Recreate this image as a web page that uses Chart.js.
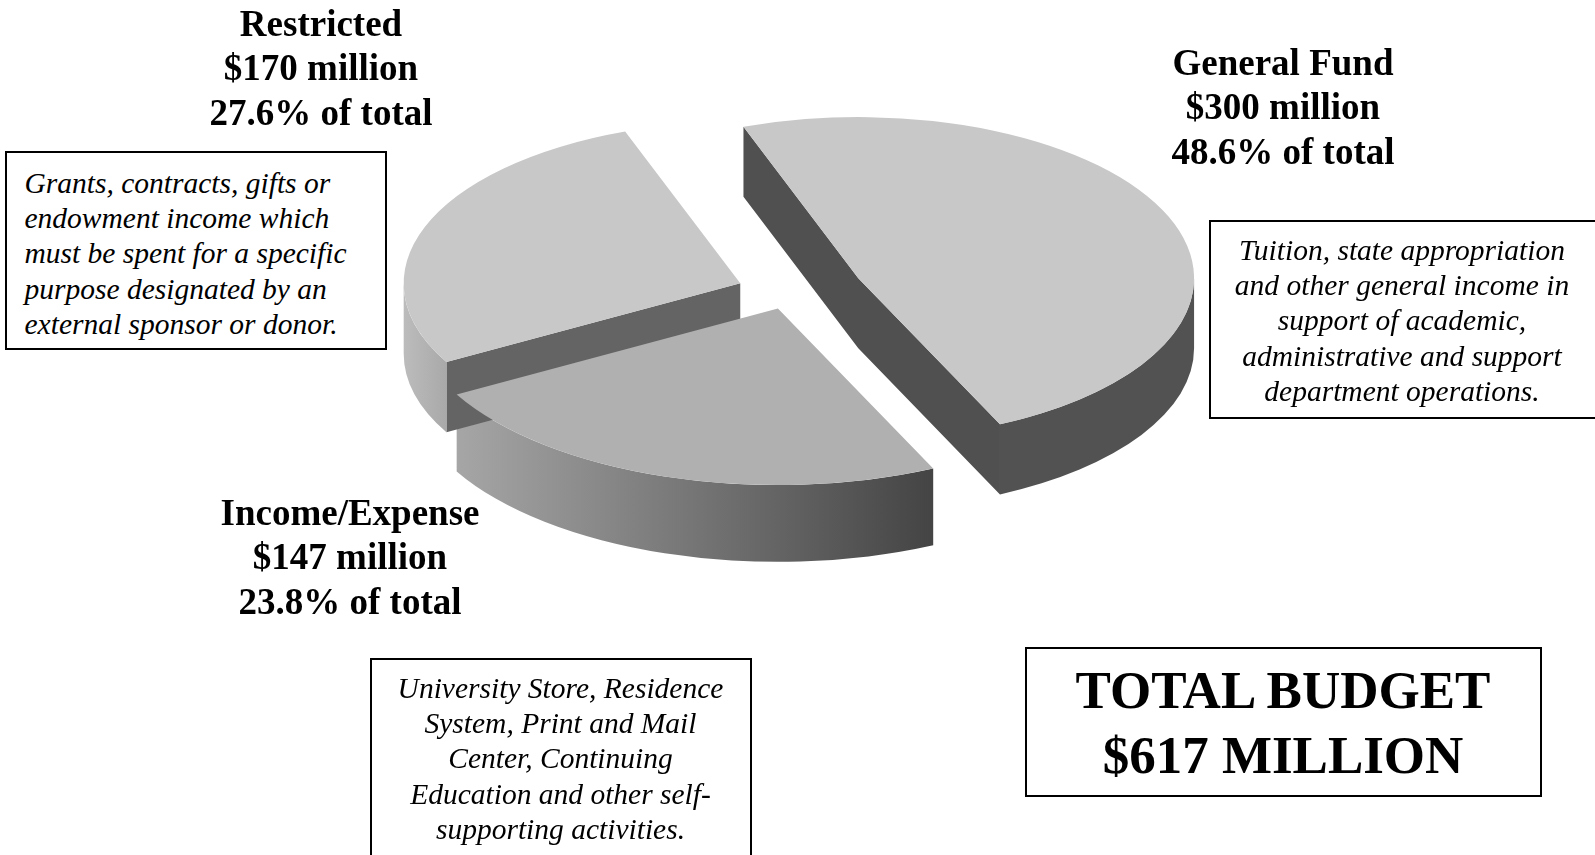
<!DOCTYPE html>
<html><head><meta charset="utf-8">
<script src="https://cdn.jsdelivr.net/npm/chart.js@4.4.1/dist/chart.umd.min.js"></script>
<style>
html,body{margin:0;padding:0;background:#fff;}
#wrap{position:relative;width:1595px;height:855px;overflow:hidden;background:#fff;}
canvas{position:absolute;left:0;top:0;}
.lbl{position:absolute;width:600px;text-align:center;font-family:"Liberation Serif","Times New Roman",serif;font-weight:bold;font-size:37px;line-height:44.5px;color:#000;white-space:nowrap;}
.box{position:absolute;box-sizing:border-box;border:2px solid #000;background:#fff;}
.note{position:absolute;font-family:"Liberation Serif","Times New Roman",serif;font-style:italic;font-size:29.5px;line-height:35.2px;white-space:nowrap;color:#000;}
.total{position:absolute;width:600px;text-align:center;font-family:"Liberation Serif","Times New Roman",serif;font-weight:bold;font-size:53px;line-height:64.4px;color:#000;white-space:nowrap;}
</style></head>
<body><div id="wrap"><canvas id="c" width="1595" height="855"></canvas></div>
<script>
// ---- data ----
const categories = ['General Fund', 'Income/Expense', 'Restricted'];
const amounts = [300, 147, 170]; // $ millions
const descGeneral = ['Tuition, state appropriation', 'and other general income in', 'support of academic,', 'administrative and support', 'department operations.'];
const descIncome = ['University Store, Residence', 'System, Print and Mail', 'Center, Continuing', 'Education and other self-', 'supporting activities.'];
const descRestricted = ['Grants, contracts, gifts or', 'endowment income which', 'must be spent for a specific', 'purpose designated by an', 'external sponsor or donor.'];

// ---- styles ----
const explode = [75, 36, 52];
const topColors = ['#c8c8c8', '#b0b0b0', '#c8c8c8'];
const cutColors = ['#505050', '#5a5a5a', '#646464'];
const wallColors = [['#525252', '#525252'], ['#a6a6a6', '#444444'], ['#bcbcbc', '#a9a9a9']];

const total = amounts.reduce((s, v) => s + v, 0);

const pie3d = {
  id: 'pie3d',
  beforeDatasetsDraw(chart, args, o) {
    const ctx = chart.ctx;
    const arcs = chart.getDatasetMeta(0).data;
    const k = o.tilt, TAU = Math.PI * 2;
    const parts = arcs.map((arc, i) => {
      const p = arc.getProps(['x', 'y', 'startAngle', 'endAngle', 'outerRadius'], true);
      const mid = (p.startAngle + p.endAngle) / 2;
      const e = o.explode[i] || 0;
      const s = 1 + o.perspective * Math.sin(mid);
      const dx = Math.cos(mid) * e, dy = Math.sin(mid) * e;
      return {arc, i, s, a: p.startAngle, b: p.endAngle, r: p.outerRadius * s, h: o.depth * s,
        cx: p.x + dx, cy: p.y + dy * k, ox: dx, oy: dy, x0: p.x, y0: p.y};
    });
    const pt = (q, t) => [q.cx + q.r * Math.cos(t), q.cy + q.r * k * Math.sin(t)];
    ctx.save();
    parts.forEach(q => {
      const h = q.h;
      const showA = Math.cos(q.a) < 0, showB = Math.cos(q.b) > 0;
      if (showA || showB) {
        const poly = [];
        const Ea = pt(q, q.a), Eb = pt(q, q.b), V = [q.cx, q.cy];
        if (showA && showB) poly.push(Ea, V, Eb, [Eb[0], Eb[1] + h], [V[0], V[1] + h], [Ea[0], Ea[1] + h]);
        else { const E = showA ? Ea : Eb; poly.push(V, E, [E[0], E[1] + h], [V[0], V[1] + h]); }
        ctx.beginPath();
        poly.forEach((c, j) => j ? ctx.lineTo(c[0], c[1]) : ctx.moveTo(c[0], c[1]));
        ctx.closePath();
        ctx.fillStyle = o.cutColors[q.i]; ctx.fill();
      }
      for (let n = Math.floor(q.a / TAU) - 1; n <= Math.ceil(q.b / TAU) + 1; n++) {
        const t1 = Math.max(q.a, n * TAU), t2 = Math.min(q.b, n * TAU + Math.PI);
        if (t2 - t1 > 1e-4) {
          const minx = pt(q, t2)[0], maxx = pt(q, t1)[0];
          const g = ctx.createLinearGradient(minx, 0, maxx + 0.01, 0);
          g.addColorStop(0, o.wallColors[q.i][0]);
          g.addColorStop(1, o.wallColors[q.i][1]);
          ctx.beginPath();
          ctx.ellipse(q.cx, q.cy, q.r, q.r * k, 0, t1, t2, false);
          ctx.ellipse(q.cx, q.cy + h, q.r, q.r * k, 0, t2, t1, true);
          ctx.closePath();
          ctx.fillStyle = g; ctx.fill();
        }
      }
    });
    parts.forEach(q => {
      ctx.save();
      ctx.translate(q.cx, q.cy); ctx.scale(q.s, q.s); ctx.translate(-q.cx, -q.cy);
      ctx.translate(q.x0, q.y0); ctx.scale(1, k); ctx.translate(-q.x0, -q.y0);
      ctx.translate(q.ox, q.oy);
      q.arc.draw(ctx);
      ctx.restore();
    });
    ctx.restore();
    return false;
  }
};

new Chart(document.getElementById('c'), {
  type: 'pie',
  data: {
    labels: categories,
    datasets: [{data: amounts, backgroundColor: topColors, borderWidth: 0, radius: 345, rotation: -20}]
  },
  options: {
    responsive: false, animation: false, events: [],
    rotation: -20, radius: 345,
    layout: {padding: {left: 0, right: 17, top: 0, bottom: 271}},
    plugins: {
      legend: {display: false}, tooltip: {enabled: false},
      pie3d: {tilt: 0.48, depth: 72, perspective: 0.07, explode, cutColors, wallColors}
    }
  },
  plugins: [pie3d]
});

// ---- text overlays ----
const wrap = document.getElementById('wrap');
function add(cls, css, lines) {
  const d = document.createElement('div');
  d.className = cls;
  Object.assign(d.style, css);
  if (lines) lines.forEach((l, j) => { if (j) d.appendChild(document.createElement('br')); d.appendChild(document.createTextNode(l)); });
  wrap.appendChild(d);
  return d;
}
const labelLines = i => [categories[i], '$' + amounts[i] + ' million', (amounts[i] / total * 100).toFixed(1) + '% of total'];
const labelPos = [{cx: 1283, top: 40.8}, {cx: 350, top: 490.6}, {cx: 321, top: 1.8}];
labelPos.forEach((p, i) => add('lbl', {left: (p.cx - 300) + 'px', top: p.top + 'px'}, labelLines(i)));

add('box', {left: '5px', top: '151px', width: '382px', height: '199px'});
add('note', {left: '24.5px', top: '166px', textAlign: 'left'}, descRestricted);
add('box', {left: '1209px', top: '220px', width: '390px', height: '199px'});
add('note', {left: '1102px', top: '233px', width: '600px', textAlign: 'center'}, descGeneral);
add('box', {left: '369.5px', top: '658px', width: '382px', height: '220px'});
add('note', {left: '260.5px', top: '671px', width: '600px', textAlign: 'center'}, descIncome);
add('box', {left: '1025px', top: '646.5px', width: '517px', height: '150.5px'});
add('total', {left: '983px', top: '658.2px'}, ['TOTAL BUDGET', '$' + total + ' MILLION']);
</script>
</body></html>
